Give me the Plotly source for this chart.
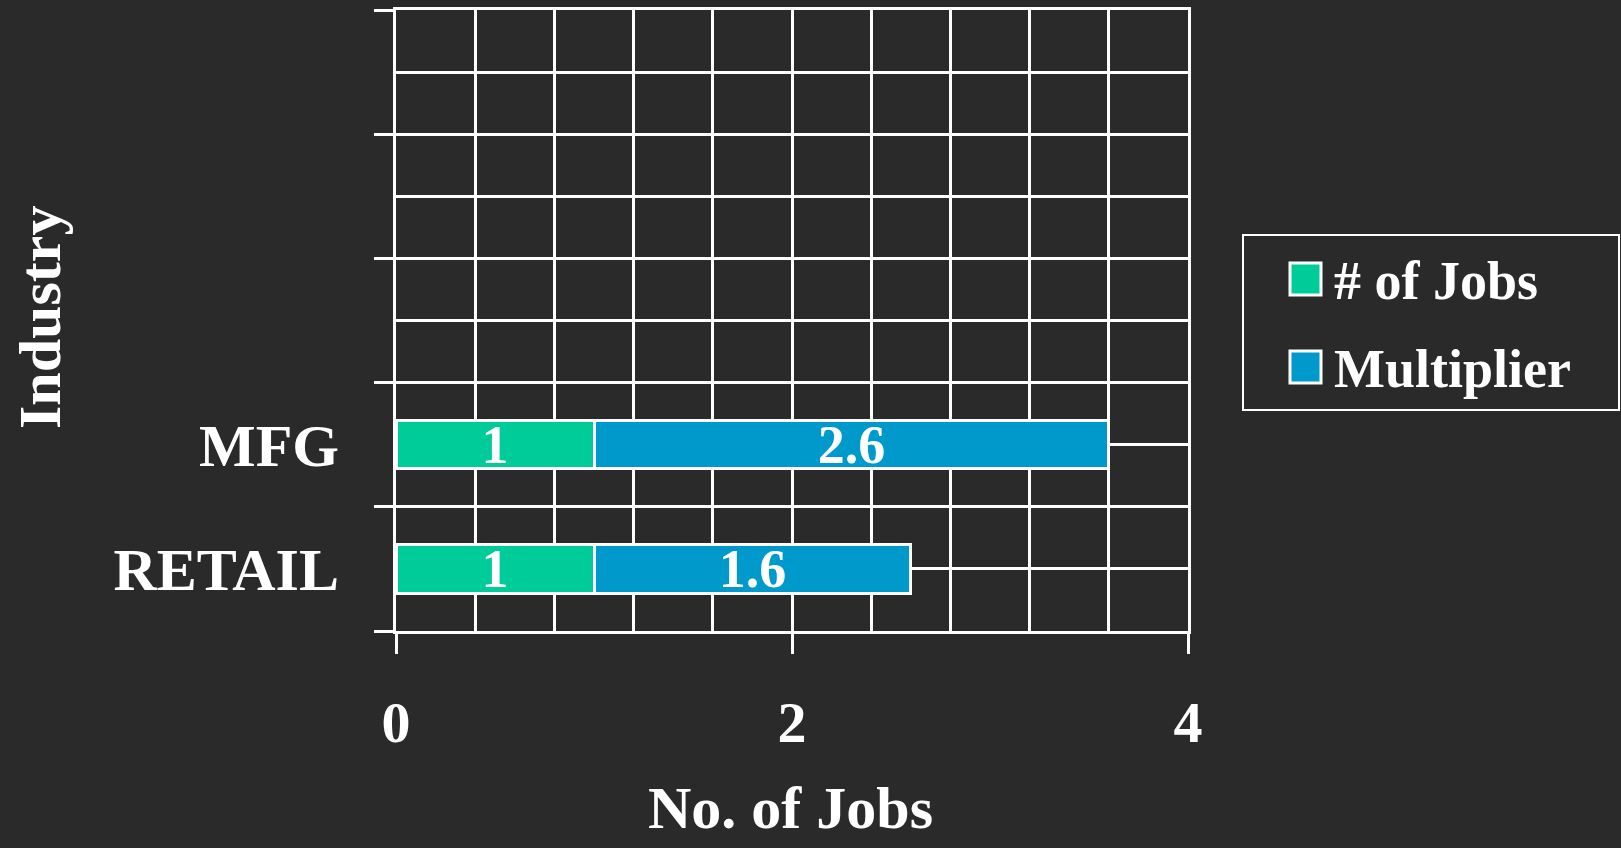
import plotly.graph_objects as go

categories = ["RETAIL", "MFG", "", " ", "  "]
jobs = [1, 1]
multiplier = [1.6, 2.6]
x_ticks = [0, 2, 4]
series_names = ["# of Jobs", "Multiplier"]

GREEN = "#00CC99"
BLUE = "#0099CC"
BG = "#2a2a2a"
FONT = "Liberation Serif"

W, H = 1621, 848
L, R, T, B = 396, 1188, 10, 631  # plot area pixel edges


def px_x(p):
    return (p - L) / (R - L)


def px_y(p):
    return (B - p) / (B - T)


ypos_all = list(range(len(categories)))
ypos = ypos_all[:len(jobs)]

fig = go.Figure()
for name, vals, col in [(series_names[0], jobs, GREEN), (series_names[1], multiplier, BLUE)]:
    fig.add_trace(go.Bar(
        y=ypos, x=vals, name=name, orientation="h", width=0.39,
        marker=dict(color=col, line=dict(color="white", width=3)),
        text=[f"{v:g}" for v in vals], textposition="inside", textangle=0,
        insidetextanchor="middle", constraintext="none",
        textfont=dict(family=FONT, size=54, color="white", weight="bold"),
        showlegend=False,
    ))

fig.update_layout(
    barmode="stack",
    width=W, height=H,
    margin=dict(l=L, r=W - R, t=T, b=H - B, autoexpand=False),
    paper_bgcolor=BG, plot_bgcolor=BG,
    font=dict(family=FONT, color="white", weight="bold"),
)

fig.update_xaxes(
    range=[0, 4], tickvals=x_ticks, ticks="outside", ticklen=20, tickwidth=3,
    tickcolor="white", ticklabelstandoff=18,
    tickfont=dict(family=FONT, size=58, color="white", weight="bold"),
    showgrid=True, gridcolor="white", gridwidth=3, zeroline=False,
    showline=True, linecolor="white", linewidth=3, mirror=True,
    minor=dict(dtick=0.4, tick0=0, showgrid=True, gridcolor="white", gridwidth=3, ticks=""),
)

fig.update_yaxes(
    range=[-0.5, 4.5], tickvals=ypos_all, ticktext=categories, ticks="",
    ticklabelstandoff=42,
    tickfont=dict(family=FONT, size=60, color="white", weight="bold"),
    showgrid=True, gridcolor="white", gridwidth=3, zeroline=False,
    showline=True, linecolor="white", linewidth=3, mirror=True,
    minor=dict(tickvals=[-0.5, 0.5, 1.5, 2.5, 3.5, 4.5], ticks="outside", ticklen=19,
               tickwidth=3, tickcolor="white", showgrid=True, gridcolor="white", gridwidth=3),
)

# axis titles
fig.add_annotation(text="No. of Jobs", x=px_x(790), y=px_y(808), xref="paper", yref="paper",
                   showarrow=False, xanchor="center", yanchor="middle",
                   font=dict(family=FONT, size=60, color="white", weight="bold"))
fig.add_annotation(text="Industry", x=px_x(40), y=px_y(318), xref="paper", yref="paper",
                   showarrow=False, xanchor="center", yanchor="middle", textangle=-90,
                   font=dict(family=FONT, size=60, color="white", weight="bold"))

# legend box
fig.add_shape(type="rect", xref="paper", yref="paper",
              x0=px_x(1243), x1=px_x(1619), y0=px_y(410), y1=px_y(235),
              line=dict(color="white", width=2), fillcolor=BG)
for i, (name, col) in enumerate(zip(series_names, [GREEN, BLUE])):
    cy = 279 + i * 88
    fig.add_shape(type="rect", xref="paper", yref="paper",
                  x0=px_x(1290), x1=px_x(1321), y0=px_y(cy + 16), y1=px_y(cy - 16),
                  line=dict(color="white", width=3), fillcolor=col)
    fig.add_annotation(text=name, x=px_x(1332), y=px_y(cy + 2), xref="paper", yref="paper",
                       showarrow=False, xanchor="left", yanchor="middle",
                       font=dict(family=FONT, size=54, color="white", weight="bold"))

fig.write_html("out.html", config={"displayModeBar": False},
               post_script="document.body.style.margin='0';document.body.style.background='#2a2a2a';")
